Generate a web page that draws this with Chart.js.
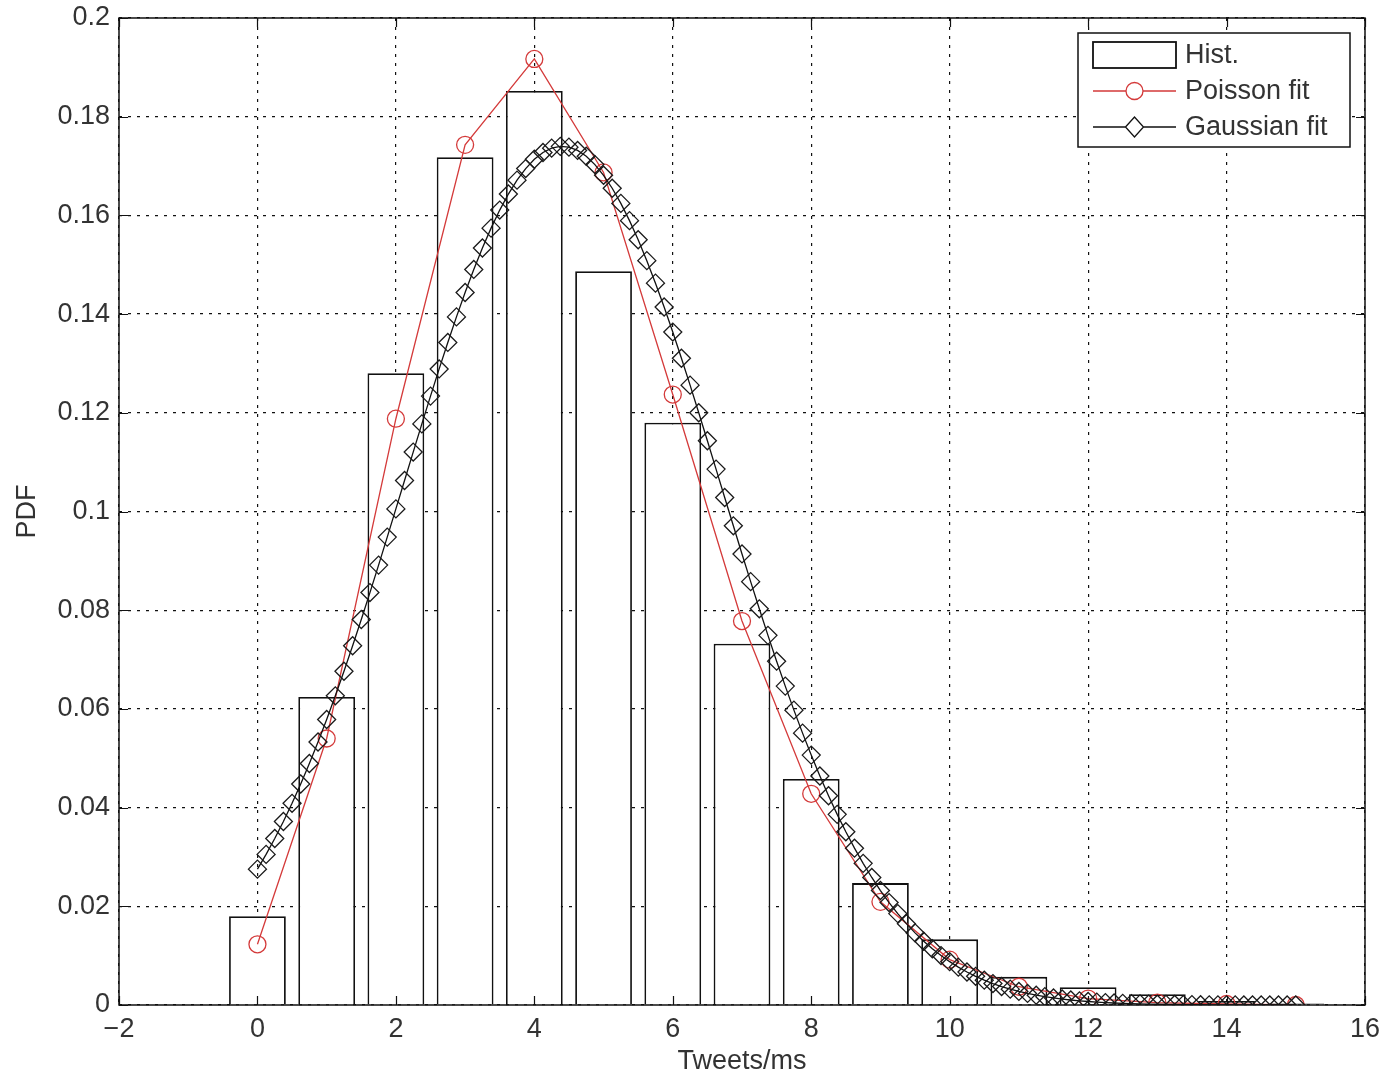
<!DOCTYPE html>
<html lang="en">
<head>
<meta charset="UTF-8" />
<title>PDF of Tweets/ms</title>
<script src="https://cdn.jsdelivr.net/npm/chart.js@4.4.0/dist/chart.umd.min.js"></script>
<style>
  html, body { margin: 0; padding: 0; background: #fff; }
</style>
</head>
<body>
<canvas id="chart" width="1381" height="1078"></canvas>
<script>
// histogram (bins 0..15)
const histX = [0, 1, 2, 3, 4, 5, 6, 7, 8, 9, 10, 11, 12, 13, 14, 15];
const histY = [0.0180, 0.0624, 0.1280, 0.1718, 0.1852, 0.1487, 0.1180, 0.0732,
               0.0458, 0.0247, 0.0133, 0.0057, 0.0036, 0.0022, 0.0008, 0.0003];

// poisson fit, one point per bin
const poissonY = [0.0123, 0.0540, 0.1188, 0.1743, 0.1917, 0.1687, 0.1237, 0.0778,
                  0.0428, 0.0209, 0.0092, 0.0037, 0.0013, 0.0005, 0.0002, 0.0000];

// gaussian fit, read along the diamonds
const gaussX = [
  0, 0.125, 0.25, 0.375, 0.5, 0.625, 0.75, 0.875,
  1, 1.125, 1.25, 1.375, 1.5, 1.625, 1.75, 1.875,
  2, 2.125, 2.25, 2.375, 2.5, 2.625, 2.75, 2.875,
  3, 3.125, 3.25, 3.375, 3.5, 3.625, 3.75, 3.875,
  4, 4.125, 4.25, 4.375, 4.5, 4.625, 4.75, 4.875,
  5, 5.125, 5.25, 5.375, 5.5, 5.625, 5.75, 5.875,
  6, 6.125, 6.25, 6.375, 6.5, 6.625, 6.75, 6.875,
  7, 7.125, 7.25, 7.375, 7.5, 7.625, 7.75, 7.875,
  8, 8.125, 8.25, 8.375, 8.5, 8.625, 8.75, 8.875,
  9, 9.125, 9.25, 9.375, 9.5, 9.625, 9.75, 9.875,
  10, 10.125, 10.25, 10.375, 10.5, 10.625, 10.75, 10.875,
  11, 11.125, 11.25, 11.375, 11.5, 11.625, 11.75, 11.875,
  12, 12.125, 12.25, 12.375, 12.5, 12.625, 12.75, 12.875,
  13, 13.125, 13.25, 13.375, 13.5, 13.625, 13.75, 13.875,
  14, 14.125, 14.25, 14.375, 14.5, 14.625, 14.75, 14.875,
  15
];
const gaussY = [
  0.02753, 0.03052, 0.03374, 0.03719, 0.04087, 0.04478, 0.04893, 0.05329,
  0.05786, 0.06265, 0.06763, 0.07279, 0.07811, 0.08357, 0.08914, 0.09481,
  0.10053, 0.10629, 0.11204, 0.11775, 0.12338, 0.12889, 0.13426, 0.13943,
  0.14437, 0.14905, 0.15340, 0.15742, 0.16108, 0.16433, 0.16714, 0.16949,
  0.17137, 0.17275, 0.17363, 0.17399, 0.17383, 0.17316, 0.17198, 0.17030,
  0.16813, 0.16550, 0.16243, 0.15894, 0.15506, 0.15083, 0.14627, 0.14144,
  0.13636, 0.13106, 0.12560, 0.12001, 0.11433, 0.10859, 0.10283, 0.09710,
  0.09140, 0.08579, 0.08028, 0.07490, 0.06967, 0.06462, 0.05975, 0.05509,
  0.05064, 0.04641, 0.04241, 0.03863, 0.03510, 0.03178, 0.02870, 0.02584,
  0.02320, 0.02076, 0.01852, 0.01648, 0.01462, 0.01292, 0.01140, 0.01002,
  0.00878, 0.00767, 0.00668, 0.00581, 0.00503, 0.00434, 0.00374, 0.00321,
  0.00275, 0.00234, 0.00199, 0.00169, 0.00143, 0.00121, 0.00101, 0.00085,
  0.00071, 0.00059, 0.00049, 0.00041, 0.00034, 0.00028, 0.00023, 0.00019,
  0.00015, 0.00012, 0.00010, 0.00008, 0.00007, 0.00005, 0.00004, 0.00003,
  0.00002, 0.00002, 0.00001, 0.00001, 0.00001, 0.00001, 0, 0,
  0
];

const xTicks = [-2, 0, 2, 4, 6, 8, 10, 12, 14, 16];
const xTickLabels = ['\u22122', '0', '2', '4', '6', '8', '10', '12', '14', '16'];
const yTicks = [0, 0.02, 0.04, 0.06, 0.08, 0.1, 0.12, 0.14, 0.16, 0.18, 0.2];
const yTickLabels = ['0', '0.02', '0.04', '0.06', '0.08', '0.1', '0.12', '0.14', '0.16', '0.18', '0.2'];
const legendLabels = ['Hist.', 'Poisson fit', 'Gaussian fit'];

const RED = 'rgb(212,58,58)';
const FONT = "'Liberation Sans', Arial, sans-serif";
Chart.defaults.font.family = FONT;
Chart.defaults.font.size = 27;
Chart.defaults.color = '#333';

// box, inward ticks and the legend, matlab style
const frame = {
  id: 'frame',
  afterDatasetsDraw(chart) {
    const ctx = chart.ctx, a = chart.chartArea;
    const xs = chart.scales.x, ys = chart.scales.y;
    ctx.save();
    ctx.strokeStyle = '#111';
    ctx.lineWidth = 1.5;
    ctx.strokeRect(a.left, a.top, a.right - a.left, a.bottom - a.top);
    ctx.lineWidth = 1.2;
    ctx.beginPath();
    xTicks.forEach(v => {
      const px = Math.round(xs.getPixelForValue(v)) + 0.5;
      ctx.moveTo(px, a.bottom); ctx.lineTo(px, a.bottom - 9);
      ctx.moveTo(px, a.top); ctx.lineTo(px, a.top + 9);
    });
    yTicks.forEach(v => {
      const py = Math.round(ys.getPixelForValue(v)) + 0.5;
      ctx.moveTo(a.left, py); ctx.lineTo(a.left + 9, py);
      ctx.moveTo(a.right, py); ctx.lineTo(a.right - 9, py);
    });
    ctx.stroke();
    ctx.restore();
  },
  afterDraw(chart) {
    const ctx = chart.ctx, a = chart.chartArea;
    const w = 272, h = 114;
    const bx = a.right - 15 - w, by = a.top + 15;
    ctx.save();
    ctx.fillStyle = '#fff';
    ctx.fillRect(bx, by, w, h);
    ctx.strokeStyle = '#111';
    ctx.lineWidth = 1.5;
    ctx.strokeRect(bx, by, w, h);

    const sx0 = bx + 15, sx1 = bx + 98, mx = (sx0 + sx1) / 2;
    const rows = [by + 22, by + 58, by + 94];

    // hist sample
    ctx.lineWidth = 1.8;
    ctx.strokeStyle = '#111';
    ctx.strokeRect(sx0, rows[0] - 13, sx1 - sx0, 26);

    // poisson sample
    ctx.lineWidth = 1.3;
    ctx.strokeStyle = RED;
    ctx.beginPath();
    ctx.moveTo(sx0, rows[1]); ctx.lineTo(mx - 8.5, rows[1]);
    ctx.moveTo(mx + 8.5, rows[1]); ctx.lineTo(sx1, rows[1]);
    ctx.stroke();
    ctx.beginPath();
    ctx.arc(mx, rows[1], 8.5, 0, Math.PI * 2);
    ctx.stroke();

    // gaussian sample
    ctx.strokeStyle = '#111';
    ctx.beginPath();
    ctx.moveTo(sx0, rows[2]); ctx.lineTo(mx - 9, rows[2]);
    ctx.moveTo(mx + 9, rows[2]); ctx.lineTo(sx1, rows[2]);
    ctx.moveTo(mx - 9, rows[2]);
    ctx.lineTo(mx, rows[2] - 10);
    ctx.lineTo(mx + 9, rows[2]);
    ctx.lineTo(mx, rows[2] + 10);
    ctx.closePath();
    ctx.stroke();

    ctx.fillStyle = '#333';
    ctx.font = '27px ' + FONT;
    ctx.textBaseline = 'middle';
    ctx.textAlign = 'left';
    legendLabels.forEach((t, i) => ctx.fillText(t, bx + 107, rows[i] + 1));
    ctx.restore();
  }
};

new Chart(document.getElementById('chart'), {
  type: 'bar',
  data: {
    datasets: [
      {
        type: 'line',
        label: legendLabels[2],
        data: gaussX.map((x, i) => ({ x: x, y: gaussY[i] })),
        borderColor: '#111',
        borderWidth: 1.3,
        pointStyle: 'rectRot',
        pointRadius: 9,
        pointBorderColor: '#1a1a1a',
        pointBackgroundColor: 'rgba(0,0,0,0)',
        pointBorderWidth: 1.3,
        order: 1
      },
      {
        type: 'line',
        label: legendLabels[1],
        data: histX.map((x, i) => ({ x: x, y: poissonY[i] })),
        borderColor: RED,
        borderWidth: 1.3,
        pointStyle: 'circle',
        pointRadius: 8.5,
        pointBorderColor: RED,
        pointBackgroundColor: 'rgba(0,0,0,0)',
        pointBorderWidth: 1.3,
        order: 2
      },
      {
        type: 'bar',
        label: legendLabels[0],
        data: histX.map((x, i) => ({ x: x, y: histY[i] })),
        backgroundColor: '#fff',
        borderColor: '#111',
        borderWidth: 1.8,
        barPercentage: 0.82,
        categoryPercentage: 1,
        order: 3
      }
    ]
  },
  options: {
    responsive: false,
    animation: false,
    devicePixelRatio: 1,
    layout: { padding: { top: 18, right: 16, left: 0, bottom: 0 } },
    plugins: {
      legend: { display: false },
      tooltip: { enabled: false }
    },
    scales: {
      x: {
        type: 'linear',
        min: -2,
        max: 16,
        offset: false,
        afterBuildTicks: s => { s.ticks = xTicks.map(v => ({ value: v })); },
        afterFit: s => {
          s.height = 73;
          s.paddingLeft = 0;
          s.paddingRight = 0;
        },
        ticks: {
          padding: 8,
          maxRotation: 0,
          autoSkip: false,
          callback: (v, i) => xTickLabels[i]
        },
        grid: {
          offset: false,
          color: '#111',
          lineWidth: 1.2,
          drawTicks: false
        },
        border: { display: false, dash: [3, 6] },
        title: {
          display: true,
          text: 'Tweets/ms',
          padding: { top: 0, bottom: 0 }
        }
      },
      y: {
        type: 'linear',
        min: 0,
        max: 0.2,
        afterBuildTicks: s => { s.ticks = yTicks.map(v => ({ value: v })); },
        afterFit: s => {
          s.width = 119;
          s.paddingTop = 0;
          s.paddingBottom = 0;
        },
        ticks: {
          padding: 9,
          autoSkip: false,
          callback: (v, i) => yTickLabels[i]
        },
        grid: {
          color: '#111',
          lineWidth: 1.2,
          drawTicks: false
        },
        border: { display: false, dash: [3, 6] },
        title: {
          display: true,
          text: 'PDF',
          padding: { top: 11, bottom: 0 }
        }
      }
    }
  },
  plugins: [frame]
});
</script>
</body>
</html>
